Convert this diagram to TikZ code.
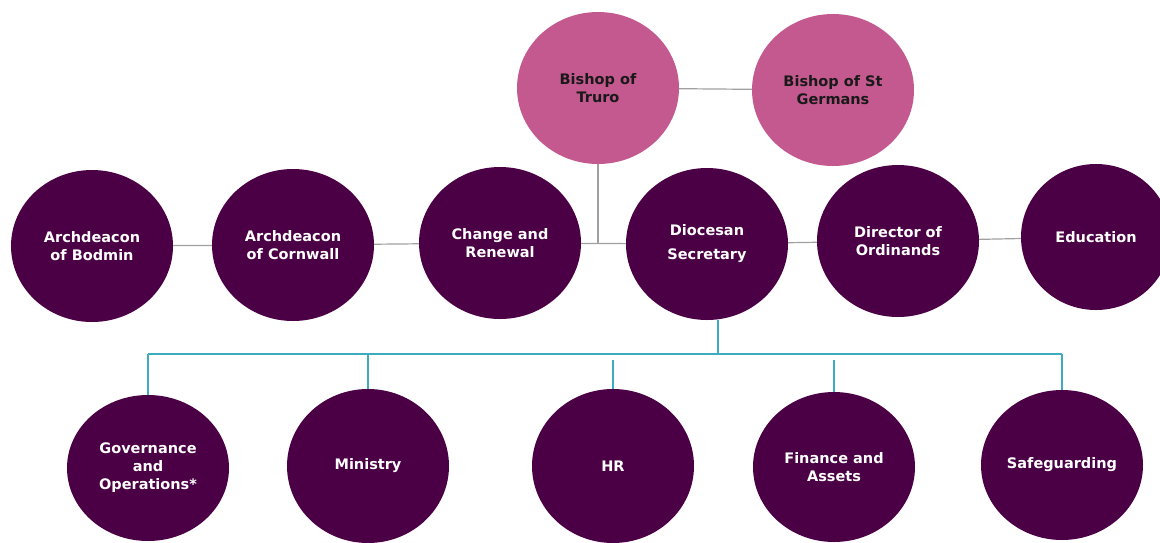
\documentclass[tikz,border=0pt]{standalone}
\usepackage{fontspec}
\setmainfont{DejaVu Sans}
\usetikzlibrary{
  shapes.geometric
}
\definecolor{plum}{RGB}{75,0,69}
\definecolor{rose}{RGB}{196,89,143}
\definecolor{linegray}{RGB}{160,160,160}
\definecolor{tealline}{RGB}{60,172,190}
\tikzset{
  % styles
  circ/.style={
    ellipse,
    inner sep=0pt,
    align=center,
    minimum width=162pt,
    minimum height=152pt,
    font=\bfseries\fontsize{14.5}{18}\selectfont,
  },
  office/.style={
    circ,
    fill=plum,
    text=white,
  },
  bishop/.style={
    circ,
    fill=rose,
    text=black!90,
  },
  link/.style={
    draw=linegray,
    line width=1.2pt,
  },
  tree/.style={
    draw=tealline,
    line width=1.2pt,
  }
}

\begin{document}
\begin{tikzpicture}[x=1pt,y=-1pt]
  \useasboundingbox (0,0) rectangle (1160,542);
  \clip (0,0) rectangle (1160,542);

  % bishops
  \node [bishop] (truro)   at (598,88) {Bishop of\\Truro};
  \node [bishop] (germans) at (833,90) {Bishop of St\\Germans};

  % senior staff
  \node [office] (bodmin)    at (92,246)   {Archdeacon\\of Bodmin};
  \node [office] (cornwall)  at (293,245)  {Archdeacon\\of Cornwall};
  \node [office] (change)    at (500,243)  {Change and\\Renewal};
  \node [office] (secretary) at (707,244)  {Diocesan\\[6pt]Secretary};
  \node [office] (ordinands) at (898,241)  {Director of\\Ordinands};
  \node [office, minimum width=150pt, minimum height=146pt]
                 (education) at (1096,237) {Education};

  % departments
  \node [office, minimum height=146pt] (governance) at (148,468) {Governance\\and\\Operations*};
  \node [office, minimum height=154pt] (ministry)   at (368,466) {Ministry};
  \node [office, minimum height=154pt] (hr)         at (613,466) {HR};
  \node [office, minimum height=150pt] (finance)    at (834,467) {Finance and\\Assets};
  \node [office, minimum height=150pt] (safeguard)  at (1062,465) {Safeguarding};

  % grey links
  \draw [link] (truro) -- (germans);
  \draw [link] (truro) -- (truro |- change);
  \draw [link] (bodmin) -- (cornwall);
  \draw [link] (cornwall) -- (change);
  \draw [link] (change) -- (secretary);
  \draw [link] (secretary) -- (ordinands);
  \draw [link] (ordinands) -- (education);

  % teal tree
  \coordinate (bus) at (718,354);
  \draw [tree] (secretary.south -| bus) -- (bus);
  \draw [tree] (governance |- bus) -- (safeguard |- bus);
  \draw [tree] (governance |- bus) -- (governance);
  \draw [tree] (ministry |- bus) -- (ministry);
  \draw [tree, shorten <=6pt] (hr |- bus) -- (hr);
  \draw [tree, shorten <=6pt] (finance |- bus) -- (finance);
  \draw [tree] (safeguard |- bus) -- (safeguard);
\end{tikzpicture}
\end{document}
